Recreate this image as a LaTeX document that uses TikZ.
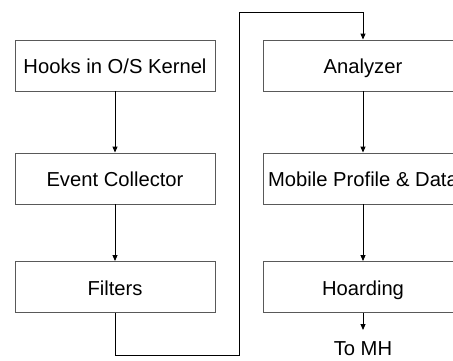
\documentclass[tikz,border=0pt]{standalone}
\usepackage{fontspec}
\setmainfont{Liberation Sans}
\usetikzlibrary{arrows.meta, calc}

\tikzset{
	block/.style = {draw=black!65, line width=0.9pt, rectangle, minimum width=200pt, minimum height=51pt, inner sep=0pt, text height=16pt, text depth=0pt, font=\fontsize{20.2}{22}\selectfont},
	flow/.style = {line width=0.9pt, -{Triangle[width=5pt, length=6pt]}}
}

\begin{document}
\begin{tikzpicture}[x=1pt, y=1pt]
		\useasboundingbox (0,0) rectangle (453,-360);
		\clip (0,0) rectangle (453,-360);

		% left column
		\node [block] (hooks) at (115,-65.5) {Hooks in O/S Kernel};
		\node [block] (collector) at (115,-178.5) {Event Collector};
		\node [block] (filters) at (115,-287) {Filters};

		% right column
		\node [block] (analyzer) at (363,-65.5) {Analyzer};
		\node [block] (profile) at (363,-178.5) {Mobile Profile \& Data};
		\node [block] (hoarding) at (363,-287) {Hoarding};

		\node [anchor=base, inner sep=0pt, font=\fontsize{20.2}{22}\selectfont] (tomh) at (363,-355) {To MH};

		\draw [flow] (hooks) -- (collector);
		\draw [flow] (collector) -- (filters);
		\draw [flow] (analyzer) -- (profile);
		\draw [flow] (profile) -- (hoarding);

		% loop over to the right column
		\coordinate (low) at (239,-355);
		\coordinate (high) at (239,-12);
		\draw [flow] (filters.south) |- (low) -- (high) -| (analyzer.north);

		\coordinate (out) at (363,-330);
		\draw [flow] (hoarding.south) -- (out);
	\end{tikzpicture}
\end{document}
